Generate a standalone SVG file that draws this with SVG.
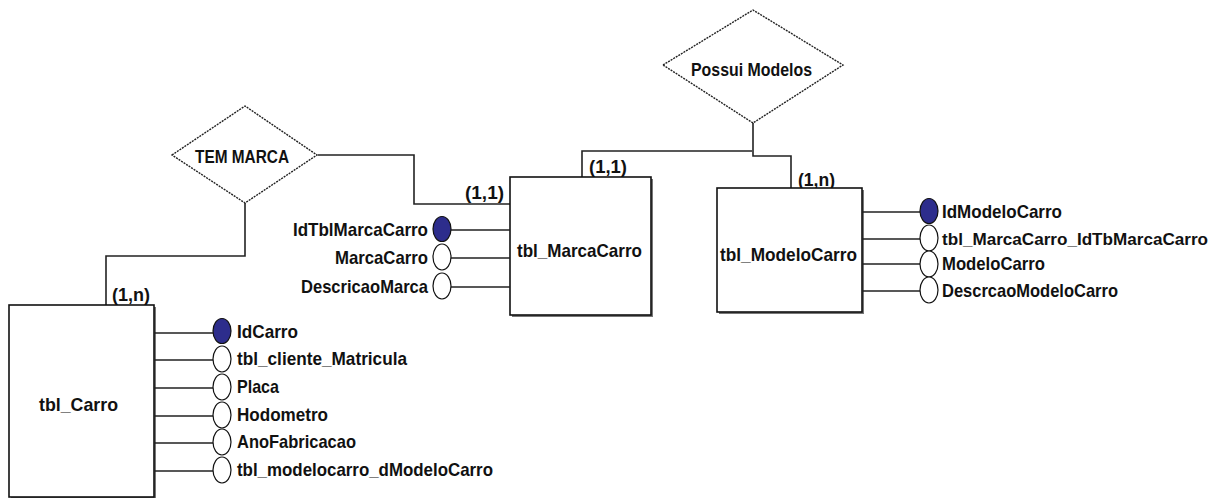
<svg xmlns="http://www.w3.org/2000/svg" width="1223" height="498" viewBox="0 0 1223 498">
<style>
.bg{fill:#ffffff}
.ent{fill:#ffffff;stroke:#111;stroke-width:1.6}
.shd{fill:#777}
.rel{fill:#ffffff;stroke:#222;stroke-width:1.4;stroke-dasharray:2 1}
.ln{fill:none;stroke:#222;stroke-width:1.6}
.pk{fill:#2d2d8c;stroke:#111;stroke-width:1.2}
.at{fill:#ffffff;stroke:#111;stroke-width:1.2}
text{font-family:"Liberation Sans",Arial,sans-serif;font-weight:bold;font-size:19px;fill:#111}
.dl{font-size:18px}
.cd{font-size:18px}
.sm{font-size:17px}
</style>
<rect class="bg" x="0" y="0" width="1223" height="498"/>

<g id="connectors">
  <path class="ln" d="M245,203 V256 H106 V305"/>
  <path class="ln" d="M318,155 H414 V204 H510"/>
  <path class="ln" d="M752,151 H582 V177"/>
  <path class="ln" d="M753,123 V156 H791 V188"/>
  <text class="cd" x="112" y="301" textLength="38" lengthAdjust="spacingAndGlyphs">(1,n)</text>
  <text class="cd" x="465" y="199" textLength="39" lengthAdjust="spacingAndGlyphs">(1,1)</text>
  <text class="cd" x="589" y="173" textLength="38" lengthAdjust="spacingAndGlyphs">(1,1)</text>
  <text class="cd" x="798" y="186" textLength="37" lengthAdjust="spacingAndGlyphs">(1,n)</text>
</g>

<g id="rel_tem_marca">
  <polygon class="rel" points="172,155 245,106 317,155 245,203"/>
  <text class="dl" x="242" y="163" text-anchor="middle" textLength="94" lengthAdjust="spacingAndGlyphs">TEM MARCA</text>
</g>

<g id="rel_possui_modelos">
  <polygon class="rel" points="663,65 753,10 843,65 753,123"/>
  <text class="dl" x="751.5" y="76" text-anchor="middle" textLength="121" lengthAdjust="spacingAndGlyphs">Possui Modelos</text>
</g>

<g id="tbl_Carro">
  <rect class="shd" x="11" y="307" width="145" height="192"/>
  <rect class="ent" x="9" y="305" width="145" height="192"/>
  <text x="78.5" y="411" text-anchor="middle" textLength="79" lengthAdjust="spacingAndGlyphs">tbl_Carro</text>
  <path class="ln" d="M154,333 H213 M154,360 H213 M154,388 H213 M154,416 H213 M154,443 H213 M154,471 H213"/>
  <ellipse class="pk" cx="222" cy="331" rx="9" ry="12.5"/>
  <ellipse class="at" cx="222" cy="359" rx="9" ry="13"/>
  <ellipse class="at" cx="222" cy="387" rx="9" ry="13"/>
  <ellipse class="at" cx="222" cy="415" rx="9" ry="13"/>
  <ellipse class="at" cx="222" cy="442" rx="9" ry="13"/>
  <ellipse class="at" cx="222" cy="470" rx="9" ry="13"/>
  <text x="237" y="338" textLength="61" lengthAdjust="spacingAndGlyphs">IdCarro</text>
  <text x="237" y="365" textLength="170" lengthAdjust="spacingAndGlyphs">tbl_cliente_Matricula</text>
  <text x="237" y="393" textLength="42" lengthAdjust="spacingAndGlyphs">Placa</text>
  <text x="237" y="421" textLength="91" lengthAdjust="spacingAndGlyphs">Hodometro</text>
  <text x="237" y="448" textLength="119" lengthAdjust="spacingAndGlyphs">AnoFabricacao</text>
  <text x="237" y="476" textLength="256" lengthAdjust="spacingAndGlyphs">tbl_modelocarro_dModeloCarro</text>
</g>

<g id="tbl_MarcaCarro">
  <rect class="shd" x="512" y="179" width="141" height="138"/>
  <rect class="ent" x="510" y="177" width="141" height="138"/>
  <text x="579.5" y="257" text-anchor="middle" textLength="125" lengthAdjust="spacingAndGlyphs">tbl_MarcaCarro</text>
  <path class="ln" d="M451,230 H510 M451,258 H510 M451,287 H510"/>
  <ellipse class="pk" cx="442" cy="229" rx="9" ry="12.5"/>
  <ellipse class="at" cx="442" cy="257" rx="9" ry="13"/>
  <ellipse class="at" cx="442" cy="286" rx="9" ry="13"/>
  <text x="428" y="236" text-anchor="end" textLength="135" lengthAdjust="spacingAndGlyphs">IdTblMarcaCarro</text>
  <text x="428" y="264" text-anchor="end" textLength="93" lengthAdjust="spacingAndGlyphs">MarcaCarro</text>
  <text x="428" y="293" text-anchor="end" textLength="127" lengthAdjust="spacingAndGlyphs">DescricaoMarca</text>
</g>

<g id="tbl_ModeloCarro">
  <rect class="shd" x="719" y="190" width="145" height="124"/>
  <rect class="ent" x="717" y="188" width="145" height="124"/>
  <text x="788.5" y="261" text-anchor="middle" textLength="137" lengthAdjust="spacingAndGlyphs">tbl_ModeloCarro</text>
  <path class="ln" d="M862,212 H920 M862,239 H920 M862,264 H920 M862,291 H920"/>
  <ellipse class="pk" cx="929" cy="211" rx="9" ry="12.5"/>
  <ellipse class="at" cx="929" cy="238" rx="9" ry="13"/>
  <ellipse class="at" cx="929" cy="264" rx="9" ry="13"/>
  <ellipse class="at" cx="929" cy="290" rx="9" ry="13"/>
  <text x="942" y="218" textLength="120" lengthAdjust="spacingAndGlyphs">IdModeloCarro</text>
  <text class="sm" x="942" y="245" textLength="266" lengthAdjust="spacingAndGlyphs">tbl_MarcaCarro_IdTbMarcaCarro</text>
  <text x="942" y="270" textLength="103" lengthAdjust="spacingAndGlyphs">ModeloCarro</text>
  <text x="942" y="297" textLength="176" lengthAdjust="spacingAndGlyphs">DescrcaoModeloCarro</text>
</g>
</svg>
